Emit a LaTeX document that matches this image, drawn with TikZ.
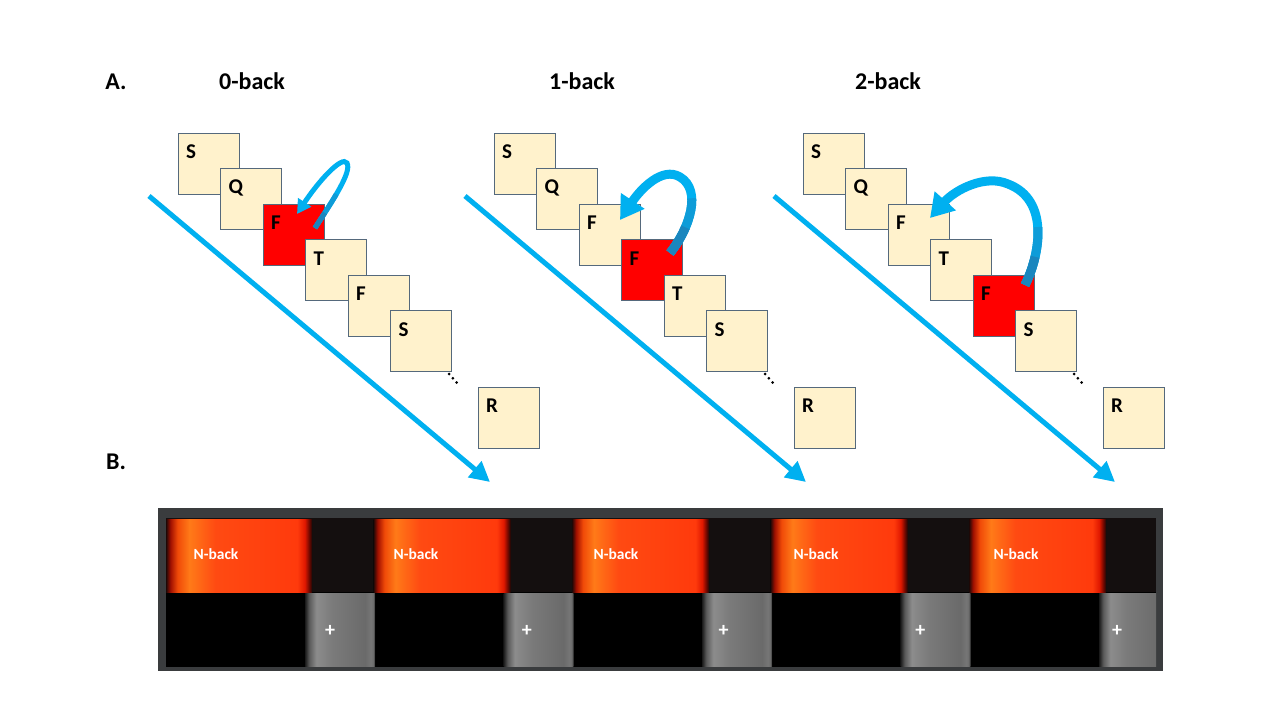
\documentclass[tikz,border=0pt]{standalone}
\usepackage{fontspec}
\setmainfont{Carlito}
\usetikzlibrary{arrows.meta}
\definecolor{cardfill}{HTML}{FFF2CC}
\definecolor{cardred}{HTML}{FF0000}
\definecolor{cardline}{HTML}{55697C}
\definecolor{lineblue}{HTML}{00B0F0}
\definecolor{arrowmid}{HTML}{0E9CD8}
\definecolor{arrowdark}{HTML}{1A86BE}
\definecolor{framegray}{HTML}{3A3C3E}
\definecolor{topdark}{HTML}{140F0F}
\definecolor{nbA}{HTML}{1E0806}
\definecolor{nbB}{HTML}{A01000}
\definecolor{nbC}{HTML}{F04A08}
\definecolor{nbD}{HTML}{FF7A18}
\definecolor{nbE}{HTML}{FF4A12}
\definecolor{nbF}{HTML}{FF3A0C}
\definecolor{nbG}{HTML}{E01800}
\definecolor{nbH}{HTML}{700800}
\definecolor{gA}{HTML}{1A1A1A}
\definecolor{gB}{HTML}{5A5A5A}
\definecolor{gC}{HTML}{8C8C8C}
\definecolor{gD}{HTML}{7A7A7A}
\definecolor{gE}{HTML}{6A6A6A}
\definecolor{gF}{HTML}{767676}
\pgfdeclarehorizontalshading{nbackshade}{100bp}{color(0bp)=(nbA); color(25bp)=(nbA); color(26.5bp)=(nbB); color(29bp)=(nbC); color(33bp)=(nbD); color(42bp)=(nbE); color(70bp)=(nbF); color(72.5bp)=(nbG); color(74bp)=(nbH); color(75bp)=(nbA); color(100bp)=(nbA)}
\pgfdeclarehorizontalshading{plusshade}{100bp}{color(0bp)=(gA); color(25bp)=(gA); color(28bp)=(gB); color(33bp)=(gC); color(45bp)=(gD); color(68bp)=(gE); color(72bp)=(gF); color(74bp)=(gE); color(75bp)=(gA); color(100bp)=(gA)}
\tikzset{
  card/.style={draw=cardline, fill=cardfill, line width=0.8pt, minimum width=61pt, minimum height=61pt, anchor=north west, inner sep=0pt, outer sep=0pt},
  redcard/.style={card, fill=cardred},
  letter/.style={anchor=west, inner sep=0pt, font=\fontsize{21}{24}\selectfont\bfseries},
  title/.style={inner sep=0pt, font=\fontsize{24}{28}\selectfont\bfseries},
  timeline/.style={draw=lineblue, line width=5pt, -{Triangle[length=20pt,width=20pt]}},
  dotmark/.style={fill=black},
  bendthin/.style={draw=lineblue, line width=5pt, -{Triangle[length=14pt,width=15pt]},
    postaction={draw=arrowmid, arrows=-, dash pattern=on 40pt off 2000pt},
    postaction={draw=arrowdark, arrows=-, dash pattern=on 18pt off 2000pt}},
  bendthick/.style={draw=lineblue, line width=9pt, -{Triangle[length=23pt,width=27pt]},
    postaction={draw=arrowmid, arrows=-, dash pattern=on 60pt off 2000pt},
    postaction={draw=arrowdark, arrows=-, dash pattern=on 30pt off 2000pt}},
  nblabel/.style={text=white, inner sep=0pt, font=\fontsize{15.5}{18}\selectfont\bfseries},
  pluslabel/.style={text=white, inner sep=0pt, font=\fontsize{20}{22}\selectfont\bfseries},
}
\begin{document}
\begin{tikzpicture}[x=1pt,y=-1pt]
\useasboundingbox (0,0) rectangle (1280,720);
\fill[white] (0,0) rectangle (1280,720);

% titles
\node[title] (tA) at (116,82) {A.};
\node[title] (t0) at (252,81) {0-back};
\node[title] (t1) at (582,81) {1-back};
\node[title] (t2) at (888,81) {2-back};
\node[title] (tB) at (116,462) {B.};

% ---------- 0-back ----------
\coordinate (s0) at (149,196);
\coordinate (e0) at (490,482);
\draw[timeline] (s0) -- (e0);
\foreach \i/\L/\st in {0/S/card,1/Q/card,2/F/redcard,3/T/card,4/F/card,5/S/card}{
  \node[\st] (a\i) at (178+42.5*\i,133+35.5*\i) {};
  \node[letter] (al\i) at ([shift={(8,19)}]a\i.north west) {\L};
}
\node[card] (aR) at (478,387) {};
\node[letter] (alR) at ([shift={(8,19)}]aR.north west) {R};
\foreach \k in {0,1,2}{\fill[dotmark] (449+3.8*\k,374+4.3*\k) circle (1.5);}
\coordinate (a0tail) at ([shift={(52,24)}]a2.north west);
\coordinate (a0top) at (347,163);
\coordinate (a0tip) at ([shift={(34,10)}]a2.north west);
\draw[bendthin] (a0tail) .. controls (333,200) and (352,172) .. (a0top) .. controls (342,155) and (318,182) .. (a0tip);

% ---------- 1-back ----------
\coordinate (s1) at (465,196);
\coordinate (e1) at (806,482);
\draw[timeline] (s1) -- (e1);
\foreach \i/\L/\st in {0/S/card,1/Q/card,2/F/card,3/F/redcard,4/T/card,5/S/card}{
  \node[\st] (b\i) at (494+42.5*\i,133+35.5*\i) {};
  \node[letter] (bl\i) at ([shift={(8,19)}]b\i.north west) {\L};
}
\node[card] (bR) at (794,387) {};
\node[letter] (blR) at ([shift={(8,19)}]bR.north west) {R};
\foreach \k in {0,1,2}{\fill[dotmark] (765+3.8*\k,374+4.3*\k) circle (1.5);}
\coordinate (b1tail) at ([shift={(48.5,13.5)}]b3.north west);
\coordinate (b1top) at (680,177);
\coordinate (b1tip) at ([shift={(41,16)}]b2.north west);
\draw[bendthick] (b1tail) .. controls (690,228) and (702,190) .. (b1top) .. controls (662,166) and (640,190) .. (b1tip);

% ---------- 2-back ----------
\coordinate (s2) at (774,196);
\coordinate (e2) at (1115,482);
\draw[timeline] (s2) -- (e2);
\foreach \i/\L/\st in {0/S/card,1/Q/card,2/F/card,3/T/card,4/F/redcard,5/S/card}{
  \node[\st] (c\i) at (803+42.5*\i,133+35.5*\i) {};
  \node[letter] (cl\i) at ([shift={(8,19)}]c\i.north west) {\L};
}
\node[card] (cR) at (1103,387) {};
\node[letter] (clR) at ([shift={(8,19)}]cR.north west) {R};
\foreach \k in {0,1,2}{\fill[dotmark] (1074+3.8*\k,374+4.3*\k) circle (1.5);}
\coordinate (c2tail) at ([shift={(52,10)}]c4.north west);
\coordinate (c2top) at (1008,184);
\coordinate (c2tip) at ([shift={(42,14)}]c2.north west);
\draw[bendthick] (c2tail) .. controls (1040,255) and (1050,200) .. (c2top) .. controls (985,174) and (955,190) .. (c2tip);

% ---------- B panel ----------
\fill[framegray] (158,508) rectangle (1163,671);
\fill[topdark] (166,518) rectangle (1156,592);
\fill[black] (166,592) rectangle (1156,667);
\begin{scope}
\clip (166,518) rectangle (1156,667);
\shade[shading=nbackshade] (166,519) rectangle (312,592);
\foreach \i in {1,2,3,4}{
  \shade[shading=nbackshade] (312+198.5*\i-137,519) rectangle (312+198.5*\i,592);
}
\foreach \i in {0,1,2,3}{
  \shade[shading=plusshade] (305+198.5*\i,593) rectangle (375+198.5*\i,666);
}
\shade[shading=plusshade] (1099,593) rectangle (1169,666);
\end{scope}
\foreach \i in {0,1,2,3,4}{
  \node[nblabel] (nb\i) at (216+200*\i,554) {N-back};
  \node[pluslabel] (pl\i) at (330+196.8*\i,631) {+};
}
\end{tikzpicture}
\end{document}
